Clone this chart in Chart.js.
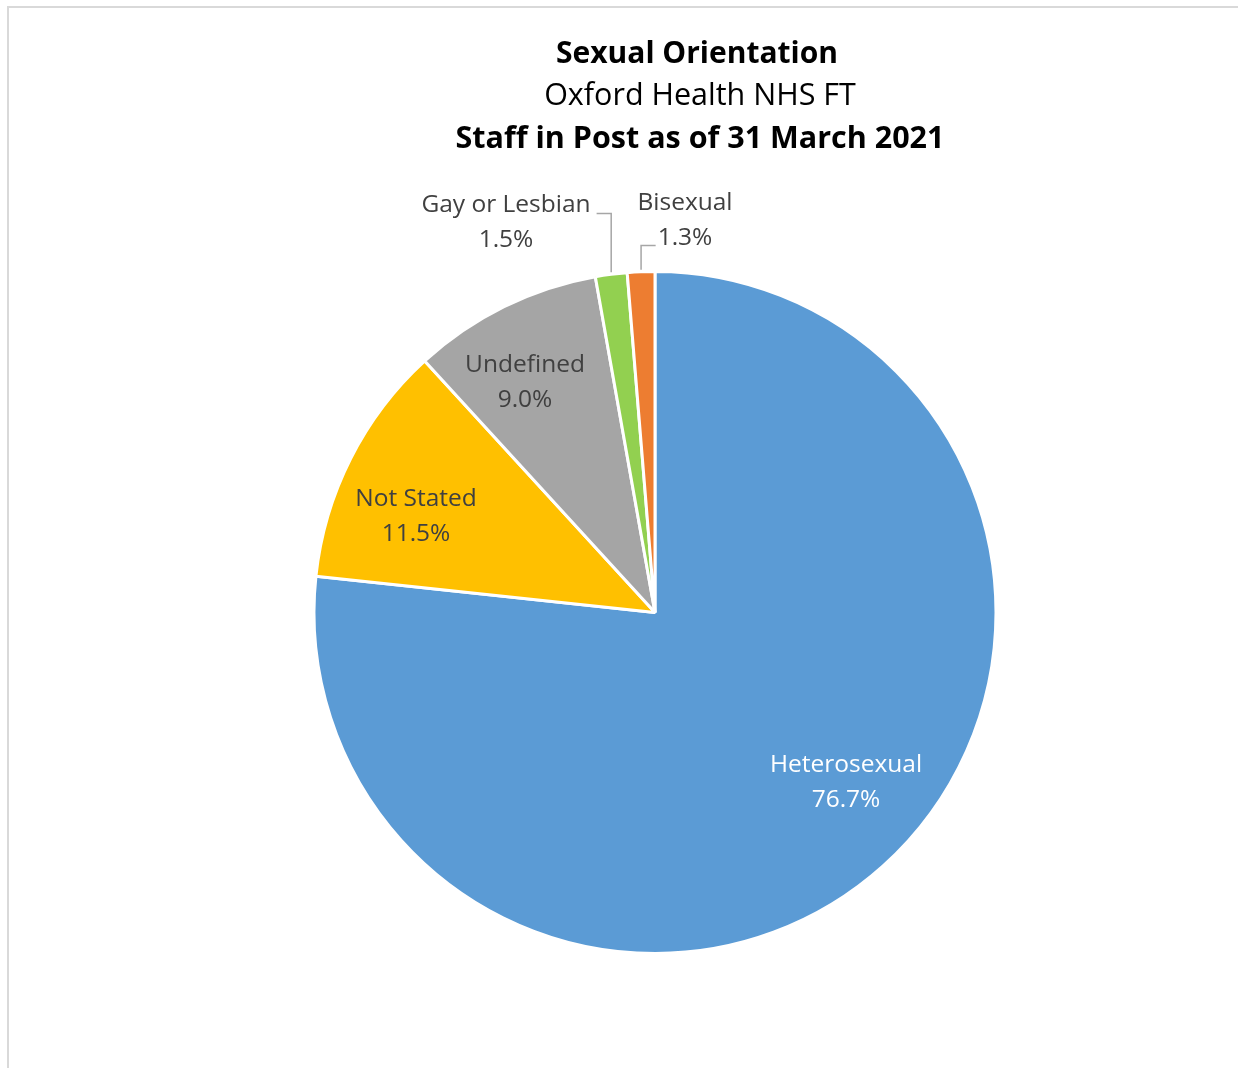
<!DOCTYPE html>
<html>
<head>
<meta charset="utf-8">
<script src="https://cdn.jsdelivr.net/npm/chart.js@4.4.0/dist/chart.umd.min.js"></script>
<style>
  html, body { margin: 0; padding: 0; background: #fff; }
  #wrap { position: relative; width: 1238px; height: 1068px; overflow: hidden; }
  #frame { position: absolute; left: 7px; top: 6px; width: 1300px; height: 1200px; border: 2px solid #d9d9d9; box-sizing: border-box; }
  canvas { position: absolute; left: 0; top: 0; }
</style>
</head>
<body>
<div id="wrap">
  <div id="frame"></div>
  <canvas id="c" width="1238" height="1068"></canvas>
</div>
<script>
const categories = ["Heterosexual", "Not Stated", "Undefined", "Gay or Lesbian", "Bisexual"];
const values = [76.7, 11.5, 9.0, 1.5, 1.3];
const colors = ["#5B9BD5", "#FFC000", "#A5A5A5", "#92D050", "#ED7D31"];
const titleLines = ["Sexual Orientation", "Oxford Health NHS FT", "Staff in Post as of 31 March 2021"];

const FONT = "'Open Sans', 'Noto Sans', sans-serif";

// label block offsets relative to pie centre, and whether a leader line is used
const labelOffsets = [
  { dx: 191, dy: 170, color: "#ffffff" },
  { dx: -239, dy: -96, color: "#404040" },
  { dx: -130, dy: -230, color: "#404040" },
  { dx: -149, dy: -390, color: "#404040", leader: "left" },
  { dx: 30, dy: -392, color: "#404040", leader: "right" }
];

const labelPlugin = {
  id: 'labels',
  afterDraw(chart) {
    const ctx = chart.ctx;
    // titles
    ctx.save();
    ctx.textAlign = 'center';
    ctx.textBaseline = 'middle';
    ctx.fillStyle = '#000';
    ctx.font = "bold 30px " + FONT;
    ctx.fillText(titleLines[0], 697, 54);
    ctx.font = "30.5px " + FONT;
    ctx.fillText(titleLines[1], 700, 96);
    ctx.font = "bold 30.5px " + FONT;
    ctx.fillText(titleLines[2], 700, 139);
    ctx.restore();

    const meta = chart.getDatasetMeta(0);
    const total = values.reduce((a, b) => a + b, 0);
    meta.data.forEach((arc, i) => {
      const cx = arc.x, cy = arc.y;
      const o = labelOffsets[i];
      const lx = cx + o.dx, ly = cy + o.dy;
      const pct = (values[i] / total * 100).toFixed(1) + '%';
      ctx.save();
      ctx.font = "24.5px " + FONT;
      ctx.textAlign = 'center';
      ctx.textBaseline = 'middle';
      ctx.fillStyle = o.color;
      ctx.fillText(categories[i], lx, ly - 17);
      ctx.fillText(pct, lx, ly + 18);
      if (o.leader) {
        const mid = (arc.startAngle + arc.endAngle) / 2;
        const ex = cx + Math.cos(mid) * arc.outerRadius;
        const ey = cy + Math.sin(mid) * arc.outerRadius;
        ctx.strokeStyle = '#a6a6a6';
        ctx.lineWidth = 1.5;
        ctx.beginPath();
        if (o.leader === 'left') {
          const w = ctx.measureText(categories[i]).width;
          const sx = lx + w / 2 + 6;
          const sy = ly - 9;
          ctx.moveTo(sx, sy);
          ctx.lineTo(ex, sy);
          ctx.lineTo(ex, ey - 2);
        } else {
          const w = ctx.measureText(pct).width;
          const sx = lx - w / 2 - 2;
          const sy = ly + 25;
          ctx.moveTo(sx, sy);
          ctx.lineTo(ex, sy);
          ctx.lineTo(ex, ey - 2);
        }
        ctx.stroke();
      }
      ctx.restore();
    });
  }
};

new Chart(document.getElementById('c'), {
  type: 'pie',
  data: {
    labels: categories,
    datasets: [{
      data: values,
      backgroundColor: colors,
      borderColor: '#ffffff',
      borderWidth: 3
    }]
  },
  options: {
    responsive: false,
    animation: false,
    radius: 341,
    layout: { padding: { left: 300, right: 228, top: 257, bottom: 100 } },
    plugins: {
      legend: { display: false },
      tooltip: { enabled: false },
      title: { display: false }
    }
  },
  plugins: [labelPlugin]
});
</script>
</body>
</html>
